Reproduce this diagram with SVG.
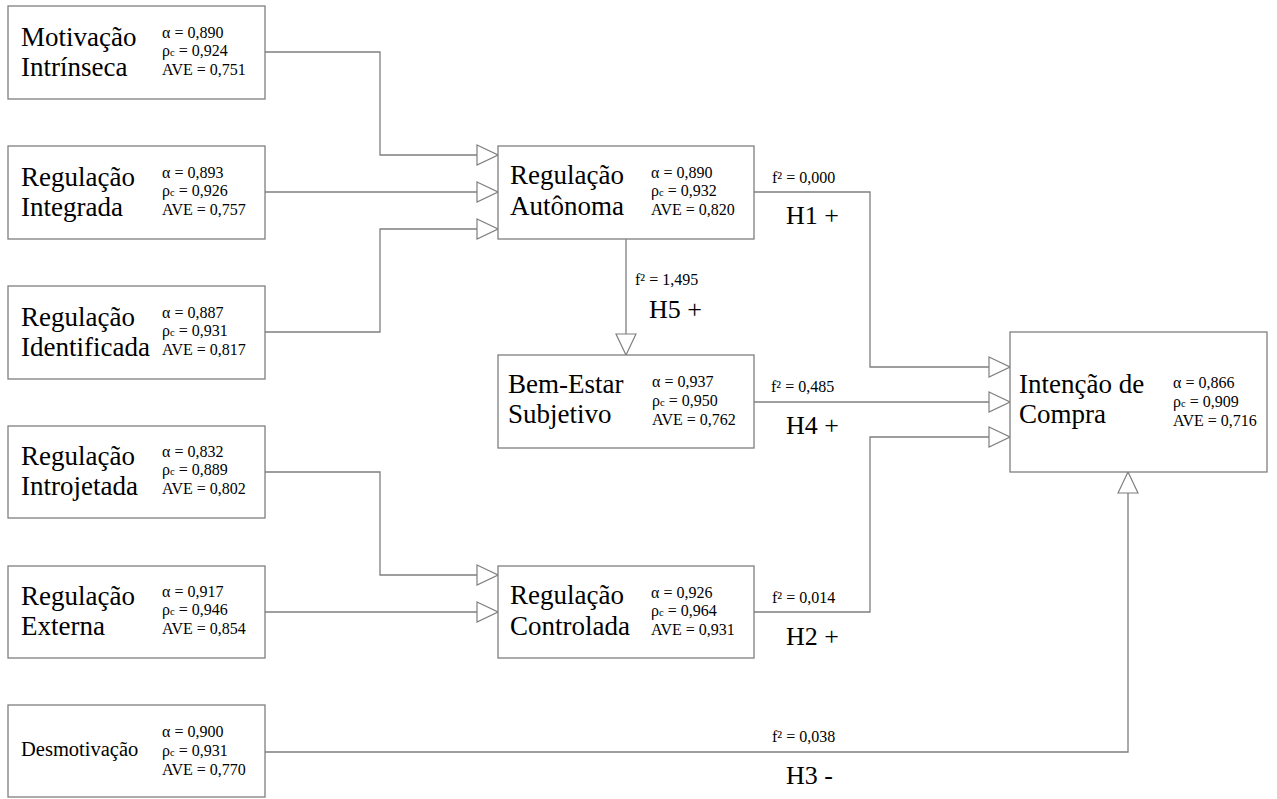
<svg xmlns="http://www.w3.org/2000/svg" width="1277" height="799" viewBox="0 0 1277 799">
<style>
.box{fill:#fff;stroke:#7f7f7f;stroke-width:1.3}
.lbl{font-family:"Liberation Serif","Times New Roman",serif;font-size:27px;fill:#000}
.lbls{font-family:"Liberation Serif","Times New Roman",serif;font-size:20.5px;fill:#000}
.st{font-family:"Liberation Serif","Times New Roman",serif;font-size:16px;fill:#000}
.sub{font-size:10.5px}
.f2{font-family:"Liberation Serif","Times New Roman",serif;font-size:16px;fill:#000}
.h{font-family:"Liberation Serif","Times New Roman",serif;font-size:26px;fill:#000}
.ln{fill:none;stroke:#7f7f7f;stroke-width:1.3;marker-end:url(#tri)}
</style>
<defs>
<marker id="tri" markerUnits="userSpaceOnUse" viewBox="0 0 23 22" refX="22" refY="11" markerWidth="23" markerHeight="22" orient="auto">
<path d="M1,1 L22,11 L1,21 Z" fill="#fff" stroke="#7f7f7f" stroke-width="1.2"/>
</marker>
</defs>
<rect width="1277" height="799" fill="#fff"/>

<g id="connectors">
<path class="ln" d="M265,52 H380 V155 H498"/>
<path class="ln" d="M265,192 H498"/>
<path class="ln" d="M265,332 H380 V229 H498"/>
<path class="ln" d="M265,472 H380 V575 H498"/>
<path class="ln" d="M265,612 H498"/>
<path class="ln" d="M626,239 V355"/>
<path class="ln" d="M754,192 H870 V367 H1010"/>
<path class="ln" d="M754,402 H1010"/>
<path class="ln" d="M754,612 H870 V437 H1010"/>
<path class="ln" d="M265,752 H1128 V472"/>
<text class="f2" x="772" y="183">f² = 0,000</text>
<text class="h" x="786" y="224">H1 +</text>
<text class="f2" x="635" y="285">f² = 1,495</text>
<text class="h" x="649" y="318">H5 +</text>
<text class="f2" x="771" y="392">f² = 0,485</text>
<text class="h" x="786" y="434">H4 +</text>
<text class="f2" x="772" y="603">f² = 0,014</text>
<text class="h" x="786" y="645">H2 +</text>
<text class="f2" x="772" y="742">f² = 0,038</text>
<text class="h" x="786" y="784">H3 -</text>
</g>

<g id="motivacao-intrinseca">
<rect class="box" x="8" y="6" width="257" height="93"/>
<text class="lbl" x="21" y="46">Motivação</text>
<text class="lbl" x="21" y="76">Intrínseca</text>
<text class="st" x="162" y="38">α = 0,890</text>
<text class="st" x="162" y="56">ρ<tspan class="sub">c</tspan> = 0,924</text>
<text class="st" x="162" y="75">AVE = 0,751</text>
</g>

<g id="regulacao-integrada">
<rect class="box" x="8" y="146" width="257" height="93"/>
<text class="lbl" x="21" y="186">Regulação</text>
<text class="lbl" x="21" y="216">Integrada</text>
<text class="st" x="162" y="178">α = 0,893</text>
<text class="st" x="162" y="196">ρ<tspan class="sub">c</tspan> = 0,926</text>
<text class="st" x="162" y="215">AVE = 0,757</text>
</g>

<g id="regulacao-identificada">
<rect class="box" x="8" y="286" width="257" height="93"/>
<text class="lbl" x="21" y="326">Regulação</text>
<text class="lbl" x="21" y="356">Identificada</text>
<text class="st" x="162" y="318">α = 0,887</text>
<text class="st" x="162" y="336">ρ<tspan class="sub">c</tspan> = 0,931</text>
<text class="st" x="162" y="355">AVE = 0,817</text>
</g>

<g id="regulacao-introjetada">
<rect class="box" x="8" y="426" width="257" height="92"/>
<text class="lbl" x="21" y="465">Regulação</text>
<text class="lbl" x="21" y="495">Introjetada</text>
<text class="st" x="162" y="457">α = 0,832</text>
<text class="st" x="162" y="475">ρ<tspan class="sub">c</tspan> = 0,889</text>
<text class="st" x="162" y="494">AVE = 0,802</text>
</g>

<g id="regulacao-externa">
<rect class="box" x="8" y="566" width="257" height="92"/>
<text class="lbl" x="21" y="605">Regulação</text>
<text class="lbl" x="21" y="635">Externa</text>
<text class="st" x="162" y="597">α = 0,917</text>
<text class="st" x="162" y="615">ρ<tspan class="sub">c</tspan> = 0,946</text>
<text class="st" x="162" y="634">AVE = 0,854</text>
</g>

<g id="desmotivacao">
<rect class="box" x="8" y="705" width="257" height="92"/>
<text class="lbls" x="21" y="756">Desmotivação</text>
<text class="st" x="162" y="737">α = 0,900</text>
<text class="st" x="162" y="756">ρ<tspan class="sub">c</tspan> = 0,931</text>
<text class="st" x="162" y="775">AVE = 0,770</text>
</g>

<g id="regulacao-autonoma">
<rect class="box" x="498" y="146" width="256" height="93"/>
<text class="lbl" x="510" y="184">Regulação</text>
<text class="lbl" x="510" y="215">Autônoma</text>
<text class="st" x="651" y="178">α = 0,890</text>
<text class="st" x="651" y="196">ρ<tspan class="sub">c</tspan> = 0,932</text>
<text class="st" x="651" y="215">AVE = 0,820</text>
</g>

<g id="bem-estar-subjetivo">
<rect class="box" x="498" y="355" width="256" height="93"/>
<text class="lbl" x="508" y="393">Bem-Estar</text>
<text class="lbl" x="508" y="423">Subjetivo</text>
<text class="st" x="652" y="387">α = 0,937</text>
<text class="st" x="652" y="406">ρ<tspan class="sub">c</tspan> = 0,950</text>
<text class="st" x="652" y="425">AVE = 0,762</text>
</g>

<g id="regulacao-controlada">
<rect class="box" x="498" y="566" width="256" height="92"/>
<text class="lbl" x="510" y="604">Regulação</text>
<text class="lbl" x="510" y="635">Controlada</text>
<text class="st" x="651" y="598">α = 0,926</text>
<text class="st" x="651" y="616">ρ<tspan class="sub">c</tspan> = 0,964</text>
<text class="st" x="651" y="635">AVE = 0,931</text>
</g>

<g id="intencao-de-compra">
<rect class="box" x="1010" y="332" width="257" height="140"/>
<text class="lbl" x="1019" y="393">Intenção de</text>
<text class="lbl" x="1019" y="423">Compra</text>
<text class="st" x="1173" y="388">α = 0,866</text>
<text class="st" x="1173" y="407">ρ<tspan class="sub">c</tspan> = 0,909</text>
<text class="st" x="1173" y="426">AVE = 0,716</text>
</g>
</svg>
